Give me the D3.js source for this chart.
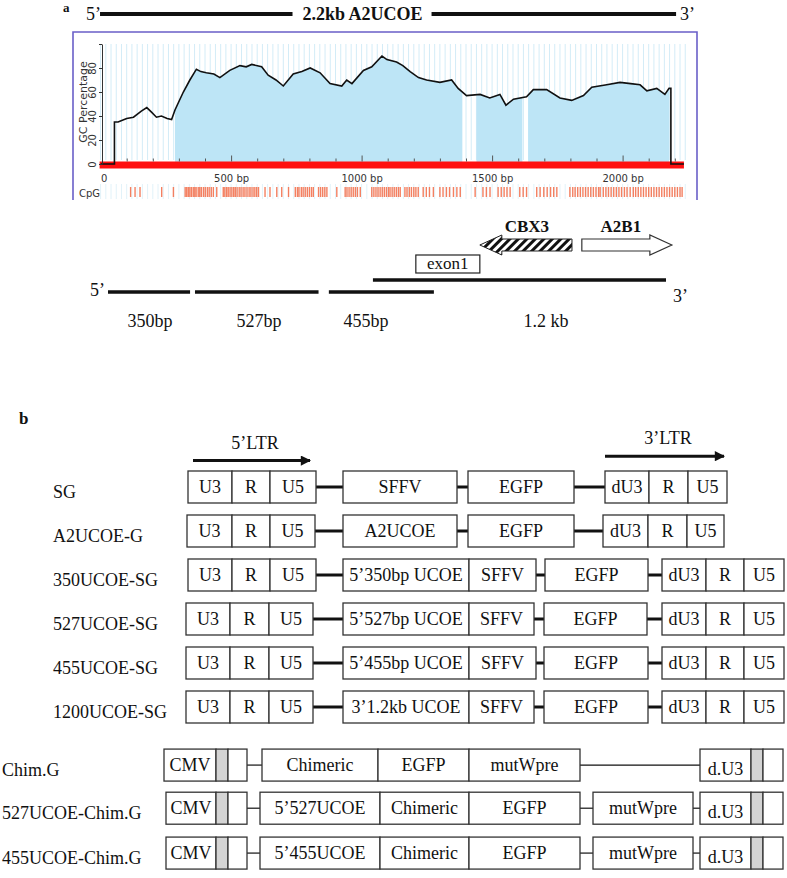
<!DOCTYPE html>
<html>
<head>
<meta charset="utf-8">
<script src="https://cdn.jsdelivr.net/npm/d3@7"></script>
<style>
  body { margin: 0; background: #fff; }
  text { font-family: "Liberation Serif", "Times New Roman", serif; fill: #111; }
  .plot text { font-family: "DejaVu Sans", Verdana, sans-serif; fill: #333; }
</style>
</head>
<body>
<div id="fig"></div>
<script>
const W = 787, H = 878;

// GC profile (position in bp, % GC)
const gcBp = [0,53,53,67,100,126,156,177,196,214,233,255,272,285,317,342,367,384,405,434,
  457,495,534,558,579,617,642,672,700,738,771,803,841,879,924,943,963,1007,1039,1078,
  1097,1134,1158,1186,1218,1249,1300,1345,1370,1402,1454,1491,1530,1553,1582,1632,1658,1709,1760,1805,
  1850,1882,1939,1990,2031,2067,2093,2131,2162,2178,2185,2185,2235];
const gcPct = [0,0,35,35,38,39,44,47,43,39,40,38,37,45,60,70,79,77,76,75,
  72,78,82,81,83,81,74,70,65,75,77,80,76,67,65,70,67,78,81,90,
  87,85,82,77,72,70,68,70,63,57,58,55,58,49,54,56,62,62,55,53,
  57,64,66,68,67,66,61,63,58,63,63,0,0];
// shaded stretches (CpG island calls)
const islands = [[285,1386],[1440,1616],[1638,2178]];
// CpG sites
const cpg = [115,132,151,234,279,
  324,330,336,342,348,355,361,366,374,380,386,394,401,409,416,424,432,445,
  470,476,483,489,496,503,510,516,523,531,538,546,553,561,569,576,584,591,598,605,
  630,649,675,694,720,746,754,760,769,776,784,792,800,808,815,835,843,851,859,867,905,
  937,944,952,960,968,976,984,995,1039,1047,1055,1063,1071,1079,1087,1095,1103,1109,
  1117,1125,1133,1141,1148,1166,1174,1183,1191,1200,1208,1217,1236,1248,1260,1275,
  1300,1312,1325,1337,1352,1365,1378,1435,1465,1478,1492,1523,1535,1546,1557,1569,
  1606,1619,1632,1671,1684,1698,1711,1724,1736,1748,
  1798,1809,1818,1828,1838,1848,1858,1868,1878,1888,1898,1908,1914,
  1926,1936,1946,1956,1966,1976,1986,1996,2007,2017,2029,
  2041,2050,2060,2070,2080,2090,2100,2110,2120,2130,2140,2150,2160,2170,2180,2190,2200,2210,2220,2228];
const yTicks = [0,20,40,60,80,100];
const xLabelTicks = [0,500,1000,1500,2000];

// fragment map under the plot (bp along the map)
const fragNames = ["350bp","527bp","455bp","1.2 kb"];
const fragStart = [0,371,942,1130];
const fragEnd = [350,898,1390,2380];
const fragLabelAt = [179,644,1100,1868];
const exonSpan = [1313,1586];
const cbx3Span = [1586,1979];
const a2b1Span = [2021,2405];
// full-length bar: left piece, label start, right piece
const fullLeft = [-34,787];
const fullLabelAt = 830;
const fullRight = [1380,2423];

// panel b constructs
const rowNames = ["SG","A2UCOE-G","350UCOE-SG","527UCOE-SG","455UCOE-SG","1200UCOE-SG",
  "Chim.G","527UCOE-Chim.G","455UCOE-Chim.G"];
const rowSlot = [0,1,2,3,4,5,6.32,7.3,8.32];
// [label, start, end, shaded]
const rowParts = [
  [["U3",188,232],["R",232,270],["U5",270,316],["SFFV",343,457],["EGFP",468,574],["dU3",605,649],["R",649,688],["U5",688,727]],
  [["U3",187,232],["R",232,270],["U5",270,315],["A2UCOE",343,457],["EGFP",468,574],["dU3",603,648],["R",648,687],["U5",687,724]],
  [["U3",188,232],["R",232,270],["U5",270,316],["5’350bp UCOE",343,469],["SFFV",469,536],["EGFP",545,648],["dU3",662,706],["R",706,744],["U5",744,784]],
  [["U3",186,230],["R",230,269],["U5",269,313],["5’527bp UCOE",343,469],["SFFV",469,534],["EGFP",544,647],["dU3",662,706],["R",706,744],["U5",744,784]],
  [["U3",186,230],["R",230,269],["U5",269,313],["5’455bp UCOE",343,469],["SFFV",469,536],["EGFP",544,648],["dU3",662,706],["R",706,744],["U5",744,784]],
  [["U3",186,230],["R",230,269],["U5",269,313],["3’1.2kb UCOE",343,469],["SFFV",469,534],["EGFP",544,648],["dU3",662,706],["R",706,744],["U5",744,784]],
  [["CMV",164,216],["",216,228,1],["",228,247],["Chimeric",262,378],["EGFP",378,469],["mutWpre",469,580],["d.U3",700,751],["",751,763,1],["",763,783]],
  [["CMV",166,216],["",216,228,1],["",228,247],["5’527UCOE",260,380],["Chimeric",380,469],["EGFP",469,580],["mutWpre",593,693],["d.U3",700,751],["",751,763,1],["",763,783]],
  [["CMV",166,216],["",216,228,1],["",228,247],["5’455UCOE",260,380],["Chimeric",380,469],["EGFP",469,580],["mutWpre",593,693],["d.U3",700,751],["",751,763,1],["",763,783]]
];
const ltrNames = ["5’LTR","3’LTR"];
const ltrSpan = [[193,313],[605,727]];
const ltrSlot = [-0.6,-0.7];

const svg = d3.select("#fig").append("svg").attr("width", W).attr("height", H);
const defs = svg.append("defs");

// ================= panel a =================
svg.append("text").attr("x", 63).attr("y", 12).attr("font-size", 13).attr("font-weight", "bold").text("a");

const m = d3.scaleLinear().domain([0, 2380]).range([108, 666]);

// full-length bar
svg.append("text").attr("x", 86).attr("y", 20).attr("font-size", 18).text("5’");
svg.append("text").attr("x", 680).attr("y", 20).attr("font-size", 18).text("3’");
svg.selectAll(".full").data([fullLeft, fullRight]).join("line")
  .attr("x1", d => m(d[0])).attr("x2", d => m(d[1])).attr("y1", 14).attr("y2", 14)
  .attr("stroke", "#111").attr("stroke-width", 4);
svg.append("text").attr("x", m(fullLabelAt)).attr("y", 20)
  .attr("font-size", 18).attr("font-weight", "bold").text("2.2kb A2UCOE");

// GC plot
const plot = svg.append("g").attr("class", "plot");
const x = d3.scaleLinear().domain([0, 2000]).range([100.6, 622.6]);
const y = d3.scaleLinear().domain([0, 100]).range([164, 44]);

plot.append("path").attr("d", "M73,200V32H697V200").attr("fill", "none")
  .attr("stroke", "#6a5fc8").attr("stroke-width", 1.6);

const grid = d3.range(0, 2241, 20);
plot.selectAll(".g1").data(grid).join("line")
  .attr("x1", d => x(d)).attr("x2", d => x(d)).attr("y1", 44).attr("y2", 160)
  .attr("stroke", "#d3ecf7").attr("stroke-width", 1);
plot.selectAll(".g2").data(grid).join("line")
  .attr("x1", d => x(d)).attr("x2", d => x(d)).attr("y1", 184).attr("y2", 199)
  .attr("stroke", "#e2f2f9").attr("stroke-width", 1);

const idx = d3.range(gcBp.length);
const clip = defs.append("clipPath").attr("id", "isl");
clip.selectAll("rect").data(islands).join("rect")
  .attr("x", d => x(d[0])).attr("width", d => x(d[1]) - x(d[0]))
  .attr("y", y(100)).attr("height", y(0) - y(100));
plot.append("path")
  .attr("d", d3.area().x(i => x(gcBp[i])).y0(y(0)).y1(i => y(gcPct[i]))(idx))
  .attr("fill", "#bde5f6").attr("clip-path", "url(#isl)");

plot.append("rect").attr("x", x(0) - 1).attr("width", x(2235) - x(0) + 1)
  .attr("y", 161.5).attr("height", 7).attr("fill", "#ff1010");

plot.append("path")
  .attr("d", d3.line().x(i => x(gcBp[i])).y(i => y(gcPct[i]))(idx))
  .attr("fill", "none").attr("stroke", "#111").attr("stroke-width", 1.6);

// axes
const yAx = plot.append("g").attr("transform", `translate(${x(0) + 1.4},0)`)
  .call(d3.axisLeft(y).tickValues(yTicks).tickSize(3).tickSizeOuter(0)
    .tickFormat(d => d === 100 ? "" : d));
yAx.select(".domain").attr("stroke", "#333");
yAx.selectAll(".tick line").attr("stroke", "#333");
yAx.selectAll(".tick text").attr("transform", "rotate(-90)")
  .attr("x", 0).attr("y", -6).attr("dy", 0).attr("text-anchor", "middle").attr("font-size", 10);
plot.append("text").attr("transform", `translate(87,102) rotate(-90)`)
  .attr("text-anchor", "middle").attr("font-size", 11).text("GC Percentage");

const minor = plot.append("g").attr("transform", "translate(0,161.5)")
  .call(d3.axisTop(x).tickValues(d3.range(100, 2201, 100)).tickSize(3).tickFormat(""));
minor.select(".domain").remove();
minor.selectAll(".tick line").attr("stroke", "#555")
  .attr("y2", d => d % 500 === 0 ? -6 : -3);
const xAx = plot.append("g").attr("transform", "translate(0,168.5)")
  .call(d3.axisBottom(x).tickValues(xLabelTicks).tickSize(0).tickPadding(6)
    .tickFormat(d => d === 0 ? "0" : d + " bp"));
xAx.select(".domain").remove();
xAx.selectAll(".tick text").attr("font-size", 10).attr("dx", (d, i) => i === 0 ? 3 : 0);

plot.append("text").attr("x", 79).attr("y", 197).attr("font-size", 10).text("CpG");
plot.selectAll(".cpg").data(cpg).join("line")
  .attr("x1", d => x(d)).attr("x2", d => x(d)).attr("y1", 187).attr("y2", 197)
  .attr("stroke", "#f26a45").attr("stroke-width", 1.4).attr("stroke-opacity", 0.85);

// fragment map
const pat = defs.append("pattern").attr("id", "hatch").attr("patternUnits", "userSpaceOnUse")
  .attr("width", 6).attr("height", 6).attr("patternTransform", "rotate(45)");
pat.append("rect").attr("width", 6).attr("height", 6).attr("fill", "#fff");
pat.append("rect").attr("width", 3).attr("height", 6).attr("fill", "#111");

function arrow(x0, x1, cy, dir) {
  const hl = 22, hh = 10, bh = 6;
  if (dir < 0) {
    return `M${x0},${cy}L${x0 + hl},${cy - hh}V${cy - bh}H${x1}V${cy + bh}H${x0 + hl}V${cy + hh}Z`;
  }
  return `M${x1},${cy}L${x1 - hl},${cy - hh}V${cy - bh}H${x0}V${cy + bh}H${x1 - hl}V${cy + hh}Z`;
}
svg.append("path").attr("d", arrow(m(cbx3Span[0]), m(cbx3Span[1]), 245, -1))
  .attr("fill", "url(#hatch)").attr("stroke", "#222").attr("stroke-width", 1);
svg.append("path").attr("d", arrow(m(a2b1Span[0]), m(a2b1Span[1]), 245, 1))
  .attr("fill", "#fff").attr("stroke", "#333").attr("stroke-width", 1.2);
svg.append("text").attr("x", m(cbx3Span[0]) + 47).attr("y", 232).attr("text-anchor", "middle")
  .attr("font-size", 17).attr("font-weight", "bold").text("CBX3");
svg.append("text").attr("x", (m(a2b1Span[0]) + m(a2b1Span[1])) / 2 - 6).attr("y", 232).attr("text-anchor", "middle")
  .attr("font-size", 17).attr("font-weight", "bold").text("A2B1");
svg.append("rect").attr("x", m(exonSpan[0])).attr("width", m(exonSpan[1]) - m(exonSpan[0]))
  .attr("y", 255).attr("height", 18).attr("fill", "#fff").attr("stroke", "#222").attr("stroke-width", 1.2);
svg.append("text").attr("x", (m(exonSpan[0]) + m(exonSpan[1])) / 2).attr("y", 269).attr("text-anchor", "middle")
  .attr("font-size", 17).text("exon1");

svg.selectAll(".frag").data(fragNames).join("line")
  .attr("x1", (d, i) => m(fragStart[i])).attr("x2", (d, i) => m(fragEnd[i]))
  .attr("y1", (d, i) => i === 3 ? 280 : 292).attr("y2", (d, i) => i === 3 ? 280 : 292)
  .attr("stroke", "#111").attr("stroke-width", 3.5);
svg.selectAll(".fragl").data(fragNames).join("text")
  .attr("x", (d, i) => m(fragLabelAt[i])).attr("y", 327).attr("text-anchor", "middle")
  .attr("font-size", 18).text(d => d);
svg.append("text").attr("x", 90).attr("y", 296).attr("font-size", 18).text("5’");
svg.append("text").attr("x", 673).attr("y", 302).attr("font-size", 18).text("3’");

// ================= panel b =================
svg.append("text").attr("x", 19).attr("y", 424).attr("font-size", 17).attr("font-weight", "bold").text("b");

const cx = d3.scaleLinear().domain([0, W]).range([0, W]);
const ry = d3.scaleLinear().domain([0, 1]).range([487, 531]);
const boxH = 32;

defs.append("marker").attr("id", "head").attr("viewBox", "0 0 10 10").attr("refX", 9).attr("refY", 5)
  .attr("markerWidth", 4).attr("markerHeight", 3.4).attr("markerUnits", "strokeWidth").attr("orient", "auto")
  .append("path").attr("d", "M0,0L10,5L0,10Z").attr("fill", "#111");

ltrNames.forEach((name, i) => {
  const yy = ry(ltrSlot[i]);
  svg.append("line").attr("x1", cx(ltrSpan[i][0])).attr("x2", cx(ltrSpan[i][1]) - 3)
    .attr("y1", yy).attr("y2", yy).attr("stroke", "#111").attr("stroke-width", 3)
    .attr("marker-end", "url(#head)");
  svg.append("text").attr("x", (cx(ltrSpan[i][0]) + cx(ltrSpan[i][1])) / 2 + 2).attr("y", yy - 12)
    .attr("text-anchor", "middle").attr("font-size", 18).text(name);
});

rowNames.forEach((name, r) => {
  const cy = ry(rowSlot[r]);
  const g = svg.append("g");
  const chim = r >= 6;
  g.append("text").attr("x", chim ? 2 : 53).attr("y", cy + 11).attr("font-size", 18).text(name);

  const parts = rowParts[r];
  // connectors across gaps between consecutive parts
  for (let k = 1; k < parts.length; k++) {
    if (parts[k][1] > parts[k - 1][2]) {
      g.append("line").attr("x1", cx(parts[k - 1][2])).attr("x2", cx(parts[k][1]))
        .attr("y1", cy).attr("y2", cy)
        .attr("stroke", "#111").attr("stroke-width", chim ? 1.2 : 3);
    }
  }
  g.selectAll("rect").data(parts).join("rect")
    .attr("x", d => cx(d[1])).attr("width", d => cx(d[2]) - cx(d[1]))
    .attr("y", cy - boxH / 2).attr("height", boxH)
    .attr("fill", d => d[3] ? "#d4d4d4" : "#fff")
    .attr("stroke", "#333").attr("stroke-width", 1.3);
  g.selectAll(".lbl").data(parts.filter(d => d[0])).join("text")
    .attr("x", d => (cx(d[1]) + cx(d[2])) / 2)
    .attr("y", d => cy + (d[0] === "d.U3" ? 10 : 6))
    .attr("text-anchor", "middle").attr("font-size", 18).text(d => d[0]);
});
</script>
</body>
</html>
